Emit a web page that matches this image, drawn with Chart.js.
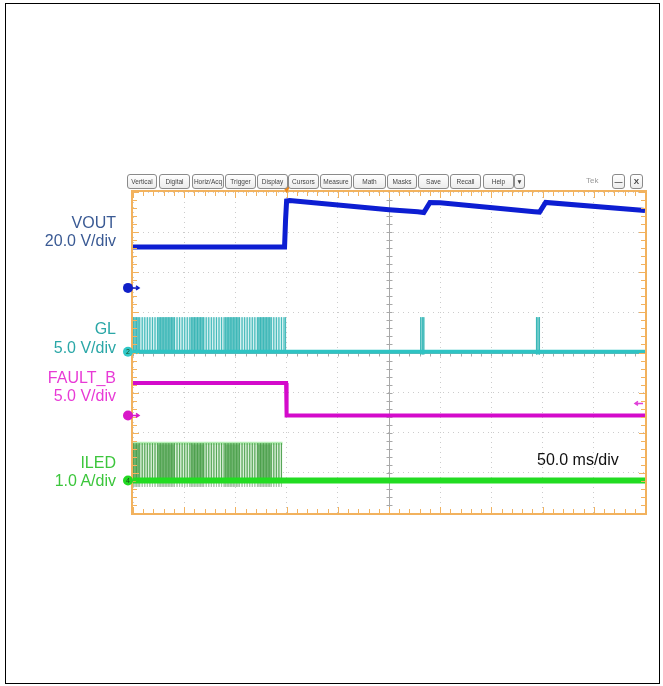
<!DOCTYPE html>
<html>
<head>
<meta charset="utf-8">
<script src="https://cdn.jsdelivr.net/npm/chart.js@4.4.1/dist/chart.umd.min.js"></script>
<style>
  body { margin: 0; background: #fff; }
  #wrap { position: relative; width: 663px; height: 686px; overflow: hidden; }
  #frame { position: absolute; left: 5px; top: 3px; width: 653px; height: 679px; border: 1px solid #000; }
  canvas { position: absolute; left: 0; top: 0; }
  .lbl { position: absolute; right: 547px; font-family: "Liberation Sans", Arial, sans-serif; font-size: 16px; line-height: 18px; white-space: nowrap; text-align: right; }
  .btn { position: absolute; top: 174px; height: 13px; border: 1px solid #8a8a8a; border-radius: 3px; background: linear-gradient(#fff, #ececec);
         font-family: "Liberation Sans", Arial, sans-serif; font-size: 6.5px; line-height: 13px; color: #444; text-align: center; }
  #tdiv { position: absolute; left: 537px; top: 451px; font-family: "Liberation Sans", Arial, sans-serif; font-size: 16px; color: #111; }
  #tek { position: absolute; left: 586px; top: 176px; font-family: "Liberation Sans", Arial, sans-serif; font-size: 8px; color: #999; }
</style>
</head>
<body>
<div id="wrap">
  <div id="frame"></div>
  <canvas id="scope" width="663" height="686"></canvas>

  <div class="lbl" style="top:214px;color:#3a5a94">VOUT</div>
  <div class="lbl" style="top:232px;color:#3a5a94">20.0 V/div</div>
  <div class="lbl" style="top:320px;color:#2aa7a7">GL</div>
  <div class="lbl" style="top:339px;color:#2aa7a7">5.0 V/div</div>
  <div class="lbl" style="top:369px;color:#e83ad6">FAULT_B</div>
  <div class="lbl" style="top:387px;color:#e83ad6">5.0 V/div</div>
  <div class="lbl" style="top:454px;color:#3cc63c">ILED</div>
  <div class="lbl" style="top:472px;color:#3cc63c">1.0 A/div</div>

  <div id="tdiv">50.0 ms/div</div>
  <div id="tek">Tek</div>
  <div id="toolbar"></div>
</div>

<script>
// time axis, ms (trigger at 0)
const timeMin = -150;
const timeMax = 350;
const timeDivs = [-150, -100, -50, 0, 50, 100, 150, 200, 250, 300, 350];

// VOUT (V)
const voutT = [-150, -2, -1, 0, 3, 100, 128, 134, 140, 150, 242, 247, 253, 350];
const voutV = [20.4, 20.4, 34, 43.3, 43.5, 39.0, 38.0, 37.6, 42.6, 42.4, 38.0, 37.8, 42.6, 38.6];

// GL (V)
const glT = [-150, 350];
const glV = [0, 0];
const glHigh = 4.3;
const glPulses = [
  -149.5, -148, -146.5, -145, -143.5, -141, -138.5, -136, -133.5, -131, -128.5,
  -126, -124.5, -123, -121.5, -120, -118.5, -117, -115.5, -114, -112.5, -111, -109.5,
  -107, -104.5, -102, -99.5, -97, -94.5,
  -93, -91.5, -90, -88.5, -87, -85.5, -84, -82.5, -81,
  -78.5, -76, -73.5, -71, -68.5, -66, -63.5, -61,
  -59.5, -58, -56.5, -55, -53.5, -52, -50.5, -49, -47.5, -46,
  -43.5, -41, -38.5, -36, -33.5, -31, -28.5,
  -27, -25.5, -24, -22.5, -21, -19.5, -18, -16.5, -15,
  -12.5, -10, -7.5, -5, -2.5, -1
];
const burstClusters = [[-149.5, -144], [-126, -109.5], [-93, -80], [-60, -46], [-28, -14.5]];
const glLatePulses = [131, 132.5, 134, 244, 245.5, 247];
const glLateDip = -0.35;

// FAULT_B (V)
const faultT = [-150, -0.5, 0, 350];
const faultV = [4.05, 4.05, 0, 0];
const faultTrigLevel = 1.5;

// ILED (A)
const iledT = [-150, 350];
const iledV = [0, 0];
const iledHigh = 0.93;
const iledDip = -0.16;
const iledPulses = glPulses.filter(t => t <= -4);

// channel scales: [ground position in divisions from bottom, units per div]
const chGround = { yVout: 5.61, yGl: 4.02, yFault: 2.43, yIled: 0.81 };
const chPerDiv = { yVout: 20, yGl: 5, yFault: 5, yIled: 1 };

// toolbar buttons [text, left, width]
const buttons = [
  ['Vertical', 127, 28], ['Digital', 159, 29], ['Horiz/Acq', 192, 30], ['Trigger', 225, 29],
  ['Display', 257, 29], ['Cursors', 288, 29], ['Measure', 320, 30], ['Math', 353, 31],
  ['Masks', 387, 28], ['Save', 418, 29], ['Recall', 450, 29], ['Help', 483, 29],
  ['\u25BC', 514, 9], ['\u2014', 612, 11], ['X', 630, 11]
];

const toolbar = document.getElementById('toolbar');
buttons.forEach(b => {
    const el = document.createElement('div');
    el.className = 'btn';
    el.textContent = b[0];
    el.style.left = b[1] + 'px';
    el.style.width = b[2] + 'px';
    if (b[0] === 'X' || b[0] === '\u2014') { el.style.fontWeight = 'bold'; el.style.fontSize = '8px'; }
    toolbar.appendChild(el);
});

function xy(ts, vs) {
    return ts.map((t, i) => ({ x: t, y: vs[i] }));
}

function pulsePoints(times, top) {
    const pts = [];
    times.forEach(t => {
        pts.push({ x: t, y: 0 }, { x: t, y: top }, { x: t, y: 0 });
    });
    return pts;
}

function channelAxis(id) {
    const g = chGround[id], d = chPerDiv[id];
    return { axis: 'y', display: false, min: -g * d, max: (8 - g) * d };
}

const datasets = [];

// GL burst
datasets.push({ data: [{ x: -149.5, y: glHigh }, { x: -0.5, y: glHigh }], yAxisID: 'yGl',
    borderWidth: 0, fill: 'origin', backgroundColor: '#d3f1f1', order: 20 });
burstClusters.forEach(c => {
    datasets.push({ data: [{ x: c[0], y: glHigh }, { x: c[1], y: glHigh }], yAxisID: 'yGl',
        borderWidth: 0, fill: 'origin', backgroundColor: '#9edcdc', order: 19 });
});
datasets.push({ data: pulsePoints(glPulses, glHigh), yAxisID: 'yGl', borderColor: 'rgba(40,175,175,0.6)',
    borderWidth: 1, order: 18 });
datasets.push({ data: pulsePoints(glLatePulses, glHigh).concat(pulsePoints(glLatePulses, glLateDip)),
    yAxisID: 'yGl', borderColor: '#3ab8b8', borderWidth: 1, order: 17 });
datasets.push({ data: xy(glT, glV), yAxisID: 'yGl', borderColor: '#2ec3c3', borderWidth: 4, order: 16 });

// ILED burst
datasets.push({ data: [{ x: -149.5, y: iledHigh }, { x: -4, y: iledHigh }], yAxisID: 'yIled',
    borderWidth: 0, fill: 'origin', backgroundColor: '#d8f0d8', order: 15 });
burstClusters.forEach(c => {
    datasets.push({ data: [{ x: c[0], y: iledHigh }, { x: c[1], y: iledHigh }], yAxisID: 'yIled',
        borderWidth: 0, fill: 'origin', backgroundColor: '#a0d2a0', order: 14 });
});
datasets.push({ data: [{ x: -149.5, y: iledHigh }, { x: -4, y: iledHigh }], yAxisID: 'yIled',
    borderColor: '#b4eeb4', borderWidth: 3, order: 13 });
datasets.push({ data: pulsePoints(iledPulses, iledHigh), yAxisID: 'yIled', borderColor: 'rgba(60,150,60,0.6)',
    borderWidth: 1, order: 12 });
datasets.push({ data: pulsePoints(iledPulses, iledDip), yAxisID: 'yIled', borderColor: '#aac2aa',
    borderWidth: 1, order: 11 });
datasets.push({ data: xy(iledT, iledV), yAxisID: 'yIled', borderColor: '#22dc22', borderWidth: 6, order: 10 });

// FAULT_B
datasets.push({ data: xy(faultT, faultV), yAxisID: 'yFault', borderColor: '#d40acb', borderWidth: 4, order: 5 });

// VOUT
datasets.push({ data: xy(voutT, voutV), yAxisID: 'yVout', borderColor: '#0d1ed2', borderWidth: 5, order: 1 });

datasets.forEach(ds => {
    ds.pointRadius = 0;
    ds.tension = 0;
    ds.borderJoinStyle = 'miter';
    if (ds.fill === undefined) ds.fill = false;
});

const ORANGE = '#f2b25e';

const scopeDecor = {
    id: 'scopeDecor',
    beforeDatasetsDraw(chart) {
        const { ctx, chartArea: a, scales } = chart;
        ctx.save();
        // centre cross lines
        ctx.strokeStyle = '#a8a8a8';
        ctx.lineWidth = 1;
        const cx = Math.round(scales.x.getPixelForValue(100)) + 0.5;
        const cy = Math.round(scales.y.getPixelForValue(4)) + 0.5;
        ctx.beginPath();
        ctx.moveTo(cx, a.top); ctx.lineTo(cx, a.bottom);
        ctx.moveTo(a.left, cy); ctx.lineTo(a.right, cy);
        ctx.stroke();
        // minor ticks on centre lines
        ctx.beginPath();
        for (let t = timeMin; t <= timeMax; t += 10) {
            const px = Math.round(scales.x.getPixelForValue(t)) + 0.5;
            ctx.moveTo(px, cy - 3); ctx.lineTo(px, cy + 3);
        }
        for (let v = 0; v <= 8; v += 0.2) {
            const py = Math.round(scales.y.getPixelForValue(v)) + 0.5;
            ctx.moveTo(cx - 3, py); ctx.lineTo(cx + 3, py);
        }
        ctx.stroke();
        ctx.restore();
    },
    afterDatasetsDraw(chart) {
        const { ctx, chartArea: a, scales } = chart;
        ctx.save();
        // orange graticule frame with ticks
        ctx.strokeStyle = ORANGE;
        ctx.lineWidth = 2;
        ctx.strokeRect(a.left - 1, a.top - 1, a.right - a.left + 2, a.bottom - a.top + 2);
        ctx.lineWidth = 1;
        ctx.beginPath();
        for (let t = timeMin; t <= timeMax; t += 10) {
            const px = Math.round(scales.x.getPixelForValue(t)) + 0.5;
            const len = (t % 50 === 0) ? 6 : 4;
            ctx.moveTo(px, a.top); ctx.lineTo(px, a.top + len);
            ctx.moveTo(px, a.bottom); ctx.lineTo(px, a.bottom - len);
        }
        for (let v = 0; v <= 8.001; v += 0.2) {
            const py = Math.round(scales.y.getPixelForValue(v)) + 0.5;
            const len = (Math.abs(v - Math.round(v)) < 0.01) ? 6 : 4;
            ctx.moveTo(a.left, py); ctx.lineTo(a.left + len, py);
            ctx.moveTo(a.right, py); ctx.lineTo(a.right - len, py);
        }
        ctx.stroke();

        // trigger position marker
        const tx = scales.x.getPixelForValue(0);
        ctx.fillStyle = '#f08a1a';
        ctx.beginPath();
        ctx.moveTo(tx - 4, a.top - 6); ctx.lineTo(tx + 4, a.top - 6); ctx.lineTo(tx, a.top + 1);
        ctx.closePath(); ctx.fill();

        // channel ground markers
        const marks = [['yVout', '#1020c8', ''], ['yGl', '#30c8c8', '2'], ['yFault', '#d818c8', ''], ['yIled', '#22d822', '4']];
        marks.forEach(m => {
            const py = scales[m[0]].getPixelForValue(0);
            const mx = a.left - 5;
            ctx.fillStyle = m[1];
            ctx.strokeStyle = m[1];
            ctx.beginPath();
            ctx.arc(mx, py, 5, 0, Math.PI * 2);
            ctx.fill();
            ctx.lineWidth = 1.5;
            ctx.beginPath();
            ctx.moveTo(mx + 4, py); ctx.lineTo(mx + 11, py);
            ctx.moveTo(mx + 8, py - 2); ctx.lineTo(mx + 11, py); ctx.lineTo(mx + 8, py + 2);
            ctx.stroke();
            if (m[2]) {
                ctx.fillStyle = '#1a4a1a';
                ctx.font = '7px "Liberation Sans", Arial, sans-serif';
                ctx.textAlign = 'center';
                ctx.textBaseline = 'middle';
                ctx.fillText(m[2], mx, py + 0.5);
            }
        });

        // FAULT_B trigger level arrow on the right
        const ly = scales.yFault.getPixelForValue(faultTrigLevel);
        ctx.strokeStyle = '#e040d8';
        ctx.lineWidth = 1.5;
        ctx.beginPath();
        ctx.moveTo(a.right - 2, ly); ctx.lineTo(a.right - 10, ly);
        ctx.moveTo(a.right - 7, ly - 2); ctx.lineTo(a.right - 10, ly); ctx.lineTo(a.right - 7, ly + 2);
        ctx.stroke();
        ctx.restore();
    }
};

new Chart(document.getElementById('scope').getContext('2d'), {
    type: 'line',
    data: { datasets: datasets },
    plugins: [scopeDecor],
    options: {
        responsive: false,
        devicePixelRatio: 1,
        animation: false,
        layout: { padding: { left: 133, top: 192, right: 18, bottom: 173 } },
        plugins: { legend: { display: false }, tooltip: { enabled: false } },
        scales: {
            x: {
                type: 'linear', min: timeMin, max: timeMax,
                afterBuildTicks: (s) => { s.ticks = timeDivs.map(v => ({ value: v })); },
                ticks: { display: false },
                grid: { color: '#cccccc', drawTicks: false, lineWidth: 1 },
                border: { display: false, dash: [1, 4] }
            },
            y: {
                min: 0, max: 8,
                ticks: { display: false, stepSize: 1 },
                grid: { color: '#cccccc', drawTicks: false, lineWidth: 1 },
                border: { display: false, dash: [1, 4] }
            },
            yVout: channelAxis('yVout'),
            yGl: channelAxis('yGl'),
            yFault: channelAxis('yFault'),
            yIled: channelAxis('yIled')
        }
    }
});
</script>
</body>
</html>
